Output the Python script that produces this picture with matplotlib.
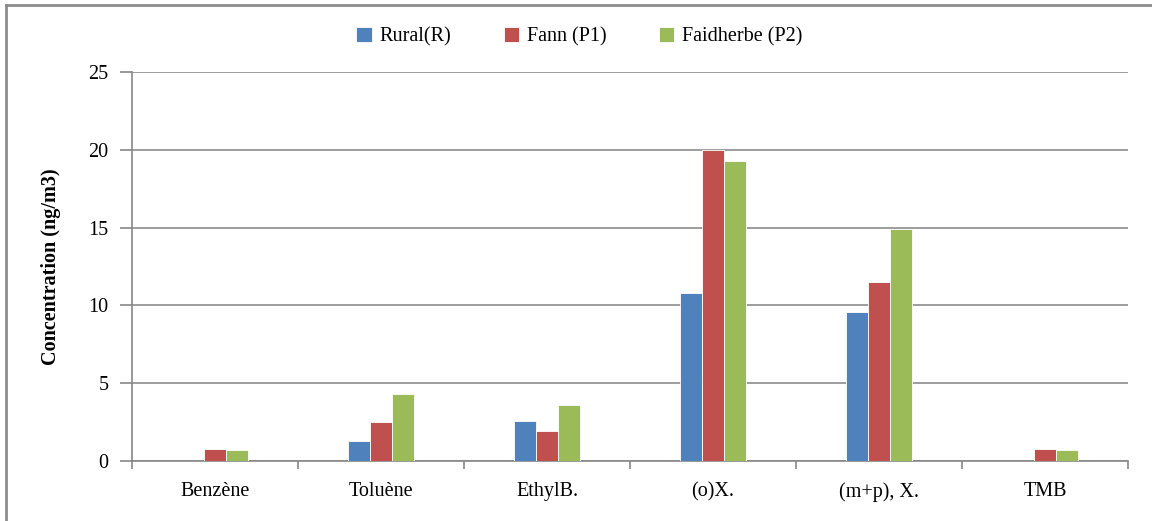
import matplotlib
matplotlib.use("Agg")
import matplotlib.pyplot as plt
import numpy as np
from matplotlib.lines import Line2D

categories = ["Benzène", "Toluène", "EthylB.", "(o)X.", "(m+p), X.", "TMB"]
series_names = ["Rural(R)", "Fann (P1)", "Faidherbe (P2)"]
rural = [0.0, 1.3, 2.6, 10.8, 9.6, 0.0]
fann = [0.8, 2.5, 1.9, 20.0, 11.5, 0.8]
faidherbe = [0.7, 4.3, 3.6, 19.3, 14.9, 0.7]
colors = ["#4F81BD", "#C0504D", "#9BBB59"]

plt.rcParams['font.family'] = ['Liberation Serif', 'DejaVu Serif']

fig = plt.figure(figsize=(11.52, 5.21), dpi=100)
ax = fig.add_axes([0.1146, 0.1152, 0.8646, 0.7466])

x = np.arange(len(categories))
w = 0.133
for i, (vals, name, c) in enumerate(zip([rural, fann, faidherbe], series_names, colors)):
    ax.bar(x + (i - 1) * w, vals, width=w, color=c, label=name, edgecolor='white', linewidth=0.6, zorder=3)

ax.set_xlim(-0.5, len(categories) - 0.5)
ax.set_ylim(0, 25)
ax.set_yticks([0, 5, 10, 15, 20, 25])
ax.set_xticks(x)
ax.set_xticklabels(categories, fontsize=14.5)
ax.tick_params(axis='x', length=0, pad=15)
ax.set_xticks(np.arange(-0.5, len(categories)), minor=True)
ax.tick_params(axis='x', which='minor', length=6, color='#888888', width=1.2)
ax.tick_params(axis='y', length=9, color='#888888', width=1.2, labelsize=14.5, pad=8)
ax.yaxis.grid(True, color='#8c8c8c', linewidth=1.2, zorder=0)
ax.set_axisbelow(True)
for s in ['top', 'right']:
    ax.spines[s].set_visible(False)
for s in ['left', 'bottom']:
    ax.spines[s].set_color('#888888')
    ax.spines[s].set_linewidth(1.2)

ax.set_ylabel("Concentration (ng/m3)", fontsize=14.5, fontweight='bold', labelpad=20)

leg = fig.legend(loc='center', bbox_to_anchor=(0.503, 0.929), ncol=3, frameon=False,
                 fontsize=14.5, handlelength=0.75, handleheight=0.75, columnspacing=2.6, handletextpad=0.4)

fig.add_artist(Line2D([0.0055, 0.0055], [0.0, 0.99], transform=fig.transFigure, color='#8c8c8c', linewidth=2))
fig.add_artist(Line2D([0.0055, 1.0], [0.99, 0.99], transform=fig.transFigure, color='#8c8c8c', linewidth=2))

fig.savefig("out.png", dpi=100)
